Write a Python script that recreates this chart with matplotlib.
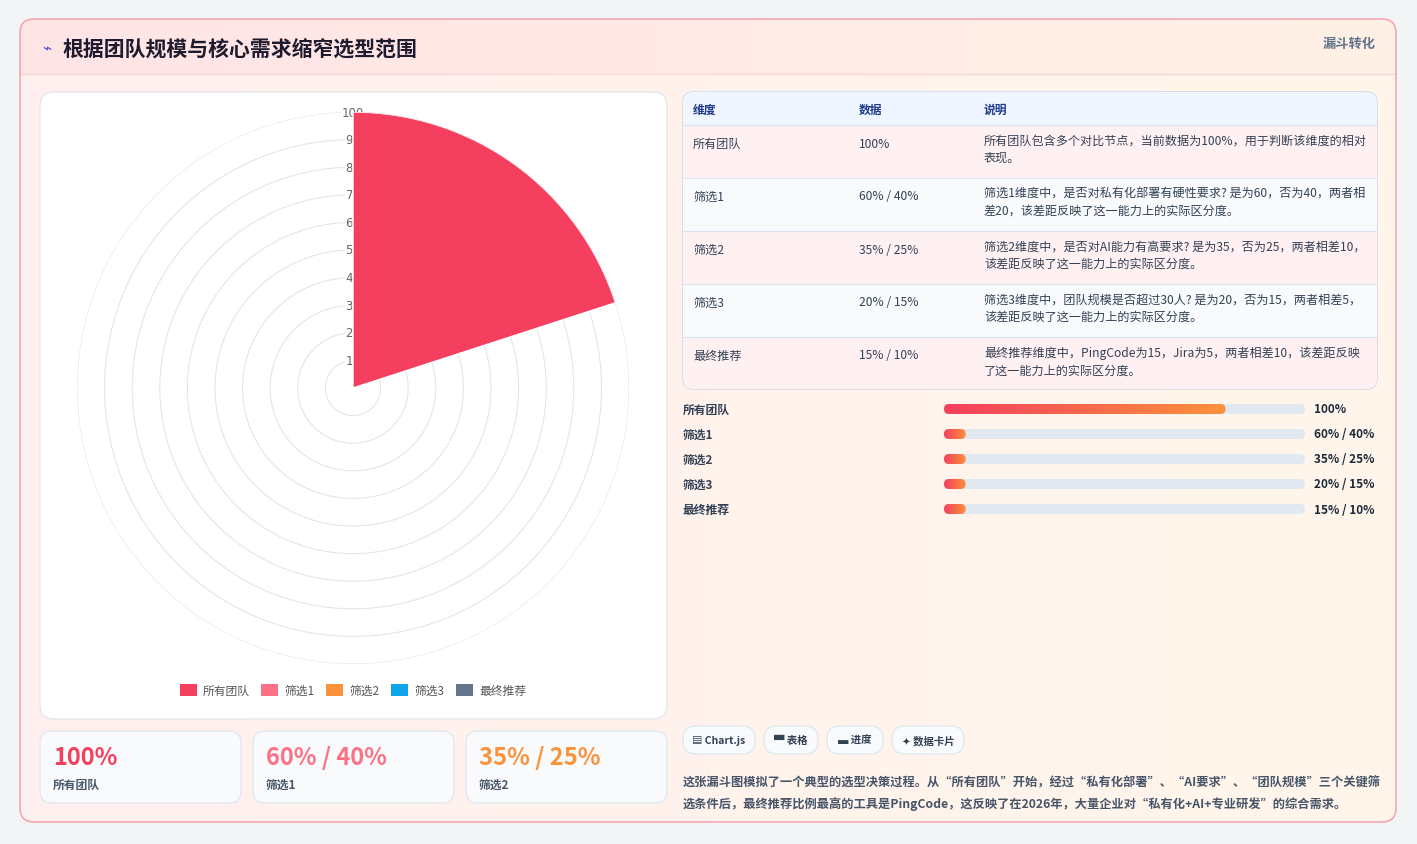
import numpy as np
import matplotlib
matplotlib.use("Agg")
import matplotlib.pyplot as plt
from matplotlib.patches import FancyBboxPatch, Rectangle
from matplotlib.colors import LinearSegmentedColormap

plt.rcParams["font.family"] = ["Noto Sans CJK SC", "DejaVu Sans"]

# ---- data ----
stages = ["所有团队", "筛选1", "筛选2", "筛选3", "最终推荐"]
stage_colors = ["#f43f5e", "#fb7185", "#fb923c", "#0ea5e9", "#64748b"]
polar_values = [100, np.nan, np.nan, np.nan, np.nan]
data_labels = ["100%", "60% / 40%", "35% / 25%", "20% / 15%", "15% / 10%"]
progress_fill = [78, 6, 6, 6, 6]
descriptions = [
    "所有团队包含多个对比节点，当前数据为100%，用于判断该维度的相对\n表现。",
    "筛选1维度中，是否对私有化部署有硬性要求? 是为60，否为40，两者相\n差20，该差距反映了这一能力上的实际区分度。",
    "筛选2维度中，是否对AI能力有高要求? 是为35，否为25，两者相差10，\n该差距反映了这一能力上的实际区分度。",
    "筛选3维度中，团队规模是否超过30人? 是为20，否为15，两者相差5，\n该差距反映了这一能力上的实际区分度。",
    "最终推荐维度中，PingCode为15，Jira为5，两者相差10，该差距反映\n了这一能力上的实际区分度。",
]
ring_ticks = [10, 20, 30, 40, 50, 60, 70, 80, 90, 100]
table_header = ["维度", "数据", "说明"]
tags = ["▤ Chart.js", "▀ 表格", "▃ 进度", "✦ 数据卡片"]
title = "根据团队规模与核心需求缩窄选型范围"
badge = "漏斗转化"
summary = ("这张漏斗图模拟了一个典型的选型决策过程。从“所有团队”开始，经过“私有化部署”、“AI要求”、“团队规模”三个关键筛\n"
           "选条件后，最终推荐比例最高的工具是PingCode，这反映了在2026年，大量企业对“私有化+AI+专业研发”的综合需求。")

W, H = 1417, 845
fig = plt.figure(figsize=(W / 100, H / 100), dpi=100)
fig.patch.set_facecolor("#f3f4f6")
ax = fig.add_axes([0, 0, 1, 1])
ax.set_xlim(0, W)
ax.set_ylim(H, 0)
ax.axis("off")


def rbox(x, y, w, h, r, fc, ec="none", lw=1, z=1):
    p = FancyBboxPatch((x, y), w, h, boxstyle=f"round,pad=0,rounding_size={r}",
                       fc=fc, ec=ec, lw=lw, zorder=z)
    ax.add_patch(p)
    return p


def gradient(x, y, w, h, c1, c2, clip, z=1):
    g = np.linspace(0, 1, 256).reshape(1, -1)
    cm = LinearSegmentedColormap.from_list("g", [c1, c2])
    im = ax.imshow(g, cmap=cm, extent=(x, x + w, y + h, y), aspect="auto", zorder=z)
    im.set_clip_path(clip)


# main card
card = rbox(20, 20, 1376, 803, 14, "none", "#f4a7b4", 1.2, z=3)
bg = rbox(20, 20, 1376, 803, 14, "none")
gradient(20, 20, 1376, 803, "#fff0f0", "#fff6ea", bg, z=1)
hdr = Rectangle((20, 20), 1376, 55, fc="none", ec="none")
ax.add_patch(hdr)
gradient(20, 20, 1376, 55, "#ffe4e6", "#fff1e6", card, z=1.5)
ax.images[-1].set_extent((20, 1396, 75, 20))
ax.plot([20, 1396], [75, 75], color="#f5d5d5", lw=1, zorder=2)
ax.text(42, 49, "⌁", color="#4f46e5", fontsize=11, va="center", zorder=4)
ax.text(62, 49, title, fontsize=15, fontweight="bold", color="#1e1b2e", va="center", zorder=4)
ax.text(1376, 44, badge, fontsize=9.5, fontweight="bold", color="#64748b", ha="right", va="center", zorder=4)

# chart panel
rbox(40, 93, 627, 627, 14, "white", "#e5e7eb", 1, z=2)

# polar area chart
cx, cy, R = 353, 389, 276
pax = fig.add_axes([(cx - R) / W, (H - cy - R) / H, 2 * R / W, 2 * R / H], projection="polar")
pax.set_theta_zero_location("N")
pax.set_theta_direction(-1)
pax.set_ylim(0, 100)
pax.set_facecolor("none")
pax.grid(False)
pax.spines["polar"].set_visible(False)
pax.set_xticks([])
pax.set_yticks([])
th = np.linspace(0, 2 * np.pi, 361)
for r in ring_ticks:
    pax.plot(th, np.full_like(th, r), color="#e5e5e5", lw=0.8, zorder=1)
    pax.text(0, r, str(r), ha="center", va="center", fontsize=8.5, color="#666666",
             family="DejaVu Sans", zorder=2,
             bbox=dict(fc="white", ec="none", pad=0.6))
step = 2 * np.pi / len(stages)
for i, (v, c) in enumerate(zip(polar_values, stage_colors)):
    if np.isnan(v):
        continue
    pax.bar(i * step + step / 2, v, width=step, color=c, ec="white", lw=1, zorder=3)

# legend
lx = 180
for name, c in zip(stages, stage_colors):
    ax.add_patch(Rectangle((lx, 685), 17, 12, fc=c, zorder=4))
    ax.text(lx + 23, 691, name, fontsize=8.5, color="#555555", va="center", zorder=4)
    tw = sum(6 if ch.isdigit() else 11 for ch in name)
    lx += 23 + tw + 14

# stat cards
for i in range(3):
    x = 40 + i * 213
    rbox(x, 732, 201, 72, 12, "#f8fafc", "#e2e8f0", 1, z=2)
    ax.text(x + 13, 758, data_labels[i], fontsize=17, fontweight="bold",
            color=stage_colors[i], va="center", zorder=4)
    ax.text(x + 13, 785, stages[i], fontsize=8.5, fontweight="bold", color="#475569", va="center", zorder=4)

# table
tbl = rbox(683, 93, 694, 297, 10, "white", "#cbd5e1", 1, z=2)
p = Rectangle((683, 93), 694, 33, fc="#eff6ff", zorder=2.1)
ax.add_patch(p)
p.set_clip_path(tbl)
colx = [693, 859, 984]
for x, h in zip(colx, table_header):
    ax.text(x, 110, h, fontsize=8.5, fontweight="bold", color="#1e3a8a", va="center", zorder=4)
row_y = 126
for i in range(len(stages)):
    fc = "#fff1f2" if i % 2 == 0 else "#f8fafc"
    p = Rectangle((683, row_y), 694, 53, fc=fc, zorder=2.1)
    ax.add_patch(p)
    p.set_clip_path(tbl)
    ax.plot([683, 1377], [row_y, row_y], color="#dbe3ee", lw=0.8, zorder=2.2)
    for x, t in zip(colx[:2], [stages[i], data_labels[i]]):
        ax.text(x, row_y + 18, t, fontsize=8.7, fontweight="medium", color="#334155",
                va="center", zorder=4)
    ax.text(colx[2], row_y + 9, descriptions[i], fontsize=8.7, fontweight="medium",
            color="#334155", va="top", linespacing=1.4, zorder=4)
    row_y += 53

# progress bars
for i in range(len(stages)):
    y = 410 + i * 25
    ax.text(683, y, stages[i], fontsize=8.5, fontweight="bold", color="#334155", va="center", zorder=4)
    rbox(944, y - 5, 361, 10, 5, "#e2e8f0", z=2)
    fw = 361 * progress_fill[i] / 100
    clip = rbox(944, y - 5, fw, 10, 5, "none", z=2.5)
    gradient(944, y - 5, fw, 10, "#f43f5e", "#fb923c", clip, z=3)
    ax.text(1314, y, data_labels[i], fontsize=8.5, fontweight="bold", color="#1e293b", va="center", zorder=4)

# tags
tx = 683
tag_widths = [72, 54, 56, 72]
for t, w in zip(tags, tag_widths):
    rbox(tx, 727, w, 28, 13, "#f8fafc", "#e2e8f0", 1, z=2)
    ax.text(tx + w / 2, 741, t, fontsize=7.5, fontweight="bold", color="#334155",
            ha="center", va="center", zorder=4)
    tx += w + 9

ax.text(683, 776, summary, fontsize=8.8, fontweight="bold", color="#475569", va="top",
        linespacing=1.75, zorder=4)

fig.savefig("out.png", dpi=100, facecolor=fig.get_facecolor())
